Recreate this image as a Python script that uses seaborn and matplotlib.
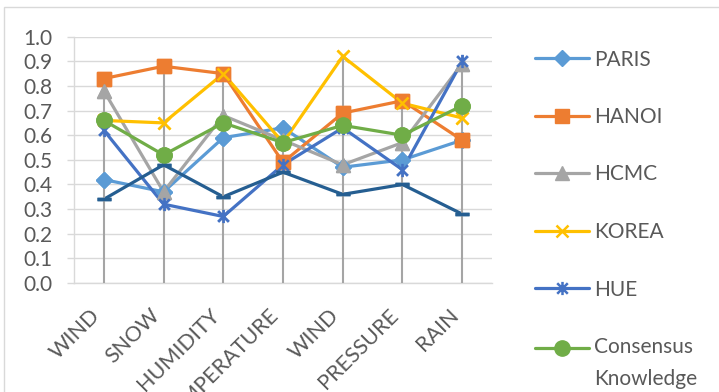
import numpy as np
import matplotlib
matplotlib.use("Agg")
import matplotlib.pyplot as plt
from matplotlib.path import Path
from matplotlib.patches import Rectangle
import seaborn as sns

# Category axis (note: "WIND" appears twice, so positions are used for x)
categories = ["WIND", "SNOW", "HUMIDITY", "TEMPERATURE", "WIND", "PRESSURE", "RAIN"]

paris = [0.42, 0.37, 0.59, 0.63, 0.47, 0.50, 0.58]
hanoi = [0.83, 0.88, 0.85, 0.49, 0.69, 0.74, 0.58]
hcmc = [0.78, 0.37, 0.68, 0.58, 0.48, 0.57, 0.89]
korea = [0.66, 0.65, 0.85, 0.57, 0.92, 0.73, 0.67]
hue = [0.62, 0.32, 0.27, 0.48, 0.63, 0.46, 0.90]
consensus = [0.66, 0.52, 0.65, 0.57, 0.64, 0.60, 0.72]
series7 = [0.34, 0.48, 0.35, 0.45, 0.36, 0.40, 0.28]

series_names = ["PARIS", "HANOI", "HCMC", "KOREA", "HUE", "Consensus\nKnowledge", "series7"]
series_values = [paris, hanoi, hcmc, korea, hue, consensus, series7]

# asterisk marker: an x with a vertical bar
star_path = Path(
    [(-1, -1), (1, 1), (-1, 1), (1, -1), (0, -1.25), (0, 1.25)],
    [Path.MOVETO, Path.LINETO, Path.MOVETO, Path.LINETO, Path.MOVETO, Path.LINETO],
)

styles = [
    dict(color="#5B9BD5", marker="D", ms=8.5, mew=1.0),
    dict(color="#ED7D31", marker="s", ms=9.5, mew=1.0),
    dict(color="#A5A5A5", marker="^", ms=10.5, mew=1.0),
    dict(color="#FFC000", marker="x", ms=9.0, mew=1.8),
    dict(color="#4472C4", marker=star_path, ms=9.5, mew=1.8),
    dict(color="#70AD47", marker="o", ms=11.0, mew=1.0),
    dict(color="#255E91", marker="_", ms=10.0, mew=2.5),
]

sns.set_style("white")
plt.rcParams["font.family"] = ["Lato", "DejaVu Sans"]

W, H = 719, 392
fig = plt.figure(figsize=(W / 100, H / 100), dpi=100)
ax = fig.add_axes([74 / W, 1 - 283 / H, (492 - 74) / W, (283 - 36.7) / H])

positions = np.arange(len(categories))
text_color = "#595959"
grid_color = "#D9D9D9"

# series lines (with markers, used for the legend)
for name, vals, st in zip(series_names, series_values, styles):
    sns.lineplot(
        x=positions, y=vals, ax=ax, color=st["color"], lw=2.3,
        marker=st["marker"], markersize=st["ms"], markeredgewidth=st["mew"],
        markeredgecolor=st["color"], markerfacecolor=st["color"],
        label=name if name != "series7" else "_nolegend_", zorder=2,
    )

# drop lines from the highest value at each category down to zero
tops = np.max(np.array(series_values), axis=0)
ax.vlines(positions, 0, tops, color="#A5A5A5", lw=1.5, zorder=3)

# markers on top of the drop lines
for vals, st in zip(series_values, styles):
    sns.lineplot(
        x=positions, y=vals, ax=ax, color=st["color"], linestyle="none",
        marker=st["marker"], markersize=st["ms"], markeredgewidth=st["mew"],
        markeredgecolor=st["color"], markerfacecolor=st["color"], zorder=4,
    )

handles, labels = ax.get_legend_handles_labels()
if ax.get_legend() is not None:
    ax.get_legend().remove()

ax.set_xlim(-0.5, 6.5)
ax.set_ylim(0, 1.0)
ax.set_yticks(np.arange(0, 1.01, 0.1))
ax.set_yticklabels([f"{v:.1f}" for v in np.arange(0, 1.01, 0.1)])
ax.set_xticks(positions)
ax.set_xticklabels(categories, rotation=45, ha="right")
ax.grid(axis="y", color=grid_color, lw=1.0, zorder=0)
ax.grid(axis="x", visible=False)
ax.set_axisbelow(True)
for side in ["top", "right"]:
    ax.spines[side].set_visible(False)
for side in ["left", "bottom"]:
    ax.spines[side].set_color(grid_color)
    ax.spines[side].set_linewidth(1.0)
ax.tick_params(axis="y", length=5, width=1.0, color=grid_color, pad=10.5,
               labelsize=15, labelcolor=text_color, direction="out", left=True)
ax.tick_params(axis="x", length=0, pad=16, labelsize=15.5, labelcolor=text_color)
ax.set_xlabel("")
ax.set_ylabel("")

leg = fig.legend(
    handles, labels, loc="upper left", bbox_to_anchor=(535 / W, 1 - 49.5 / H),
    frameon=False, fontsize=15, handlelength=2.6, handletextpad=0.25,
    labelspacing=1.8, borderpad=0, borderaxespad=0,
)
for t in leg.get_texts():
    t.set_color(text_color)
    t.set_linespacing(1.72)

# align the two-line entry's handle with its first line
last = leg.legend_handles[-1]
last.set_ydata(np.asarray(last.get_ydata(), dtype=float) + 11.2)

# chart area border
fig.patches.append(Rectangle((4 / W, -0.1), 2.0, 1 - 7 / H + 0.1, transform=fig.transFigure,
                             fill=False, ec=grid_color, lw=1.0))

fig.savefig("out.png", dpi=100)
